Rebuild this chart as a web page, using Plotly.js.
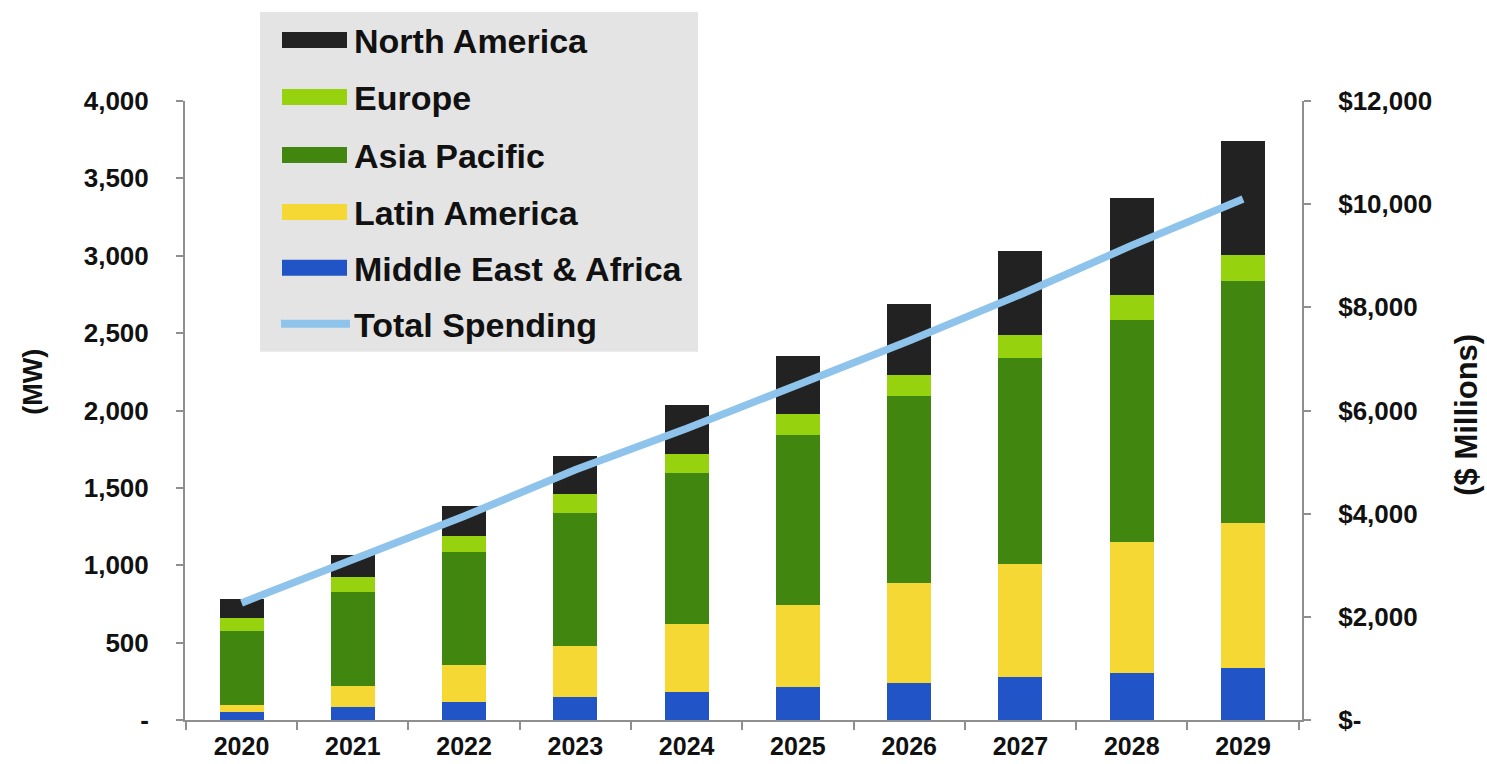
<!DOCTYPE html>
<html>
<head>
<meta charset="utf-8">
<script src="https://cdn.plot.ly/plotly-3.0.1.min.js"></script>
<style>html,body{margin:0;padding:0;background:#fff;}#chart{width:1487px;height:764px;}</style>
</head>
<body>
<div id="chart"></div>
<script>
// ---- data ----
const years = ["2020","2021","2022","2023","2024","2025","2026","2027","2028","2029"];
const middleEastAfrica = [50, 82, 118, 147, 179, 211, 241, 280, 306, 337];
const latinAmerica     = [47, 140, 237, 333, 441, 532, 642, 731, 842, 933];
const asiaPacific      = [480, 603, 733, 860, 974, 1099, 1213, 1330, 1439, 1564];
const europe           = [84, 101, 101, 118, 125, 135, 133, 148, 161, 168];
const northAmerica     = [119, 140, 194, 250, 316, 375, 459, 539, 627, 739];
const totalSpending    = [2270, 3100, 3950, 4850, 5650, 6500, 7350, 8250, 9200, 10100];

const leftTickVals  = [0, 500, 1000, 1500, 2000, 2500, 3000, 3500, 4000];
const leftTickText  = ["-", "500", "1,000", "1,500", "2,000", "2,500", "3,000", "3,500", "4,000"];
const rightTickVals = [0, 2000, 4000, 6000, 8000, 10000, 12000];
const rightTickText = ["$-", "$2,000", "$4,000", "$6,000", "$8,000", "$10,000", "$12,000"];

const seriesNames  = ["Middle East & Africa", "Latin America", "Asia Pacific", "Europe", "North America"];
const seriesValues = [middleEastAfrica, latinAmerica, asiaPacific, europe, northAmerica];
const seriesColors = ["#2154c6", "#f6d834", "#41870f", "#96d30e", "#222222"];
const lineName = "Total Spending";
const lineColor = "#8ec4eb";

// ---- geometry helpers (plot area in pixels) ----
const W = 1487, H = 764;
const M = {l: 185, r: 185, t: 101, b: 43.5};
const pw = W - M.l - M.r, ph = H - M.t - M.b;
const px = x => (x - M.l) / pw;
const py = y => (H - M.b - y) / ph;

const FONT = "Liberation Sans, Arial, sans-serif";

const traces = seriesNames.map((n, i) => ({
  type: "bar", name: n, x: years, y: seriesValues[i],
  marker: {color: seriesColors[i], line: {width: 0}},
  showlegend: false, hoverinfo: "x+y+name"
}));
traces.push({
  type: "scatter", mode: "lines", name: lineName, x: years, y: totalSpending,
  yaxis: "y2", line: {color: lineColor, width: 7.5}, showlegend: false
});

// ---- custom legend (box, swatches, labels) ----
const legendOrder = [4, 3, 2, 1, 0];
const rowY = [40, 97, 155, 212, 268, 324];
const shapes = [{
  type: "rect", xref: "paper", yref: "paper", layer: "above",
  x0: px(260), x1: px(698), y0: py(352), y1: py(12),
  fillcolor: "#e4e4e4", line: {width: 0}
}];
const annotations = [];
legendOrder.forEach((si, r) => {
  shapes.push({type: "rect", xref: "paper", yref: "paper", layer: "above",
    x0: px(282), x1: px(347), y0: py(rowY[r] + 8), y1: py(rowY[r] - 8),
    fillcolor: seriesColors[si], line: {width: 0}});
  annotations.push({xref: "paper", yref: "paper", x: px(352), y: py(rowY[r] + 1),
    xanchor: "left", yanchor: "middle", showarrow: false, text: seriesNames[si],
    font: {family: FONT, size: 34, weight: 700, color: "#111"}});
});
shapes.push({type: "line", xref: "paper", yref: "paper", layer: "above",
  x0: px(281), x1: px(350), y0: py(rowY[5]), y1: py(rowY[5]),
  line: {color: lineColor, width: 8}});
annotations.push({xref: "paper", yref: "paper", x: px(352), y: py(rowY[5] + 1),
  xanchor: "left", yanchor: "middle", showarrow: false, text: lineName,
  font: {family: FONT, size: 34, weight: 700, color: "#111"}});

// axis titles
annotations.push({xref: "paper", yref: "paper", x: px(33), y: py(382), xanchor: "center", yanchor: "middle",
  showarrow: false, text: "(MW)", textangle: -90, font: {family: FONT, size: 27, weight: 700, color: "#111"}});
annotations.push({xref: "paper", yref: "paper", x: px(1467), y: py(415), xanchor: "center", yanchor: "middle",
  showarrow: false, text: "($ Millions)", textangle: -90, font: {family: FONT, size: 31, weight: 700, color: "#111"}});

const tickFont = {family: FONT, size: 26, weight: 700, color: "#111"};
const xTickFont = {family: FONT, size: 25, weight: 700, color: "#111"};
const axisCol = "#8f8f8f";

const layout = {
  width: W, height: H,
  margin: M,
  paper_bgcolor: "#fff", plot_bgcolor: "#fff",
  barmode: "stack", bargap: 0.605,
  showlegend: false,
  font: {family: FONT},
  xaxis: {
    type: "category", range: [-0.508, 9.53],
    showline: true, linecolor: axisCol, linewidth: 2,
    ticks: "outside", tickson: "boundaries", ticklen: 8, tickcolor: axisCol, tickwidth: 2,
    tickfont: xTickFont, showgrid: false, zeroline: false, ticklabelstandoff: 3
  },
  yaxis: {
    range: [0, 4000], tickvals: leftTickVals, ticktext: leftTickText,
    showline: true, linecolor: axisCol, linewidth: 2,
    ticks: "outside", ticklen: 7, tickcolor: axisCol, tickwidth: 2,
    tickfont: tickFont, showgrid: false, zeroline: false, ticklabelstandoff: 22
  },
  yaxis2: {
    range: [0, 12000], overlaying: "y", side: "right",
    tickvals: rightTickVals, ticktext: rightTickText,
    showline: true, linecolor: axisCol, linewidth: 2,
    ticks: "outside", ticklen: 7, tickcolor: axisCol, tickwidth: 2,
    tickfont: tickFont, showgrid: false, zeroline: false, ticklabelstandoff: 22
  },
  shapes: shapes,
  annotations: annotations
};

Plotly.newPlot("chart", traces, layout, {displayModeBar: false, staticPlot: true});
</script>
</body>
</html>
